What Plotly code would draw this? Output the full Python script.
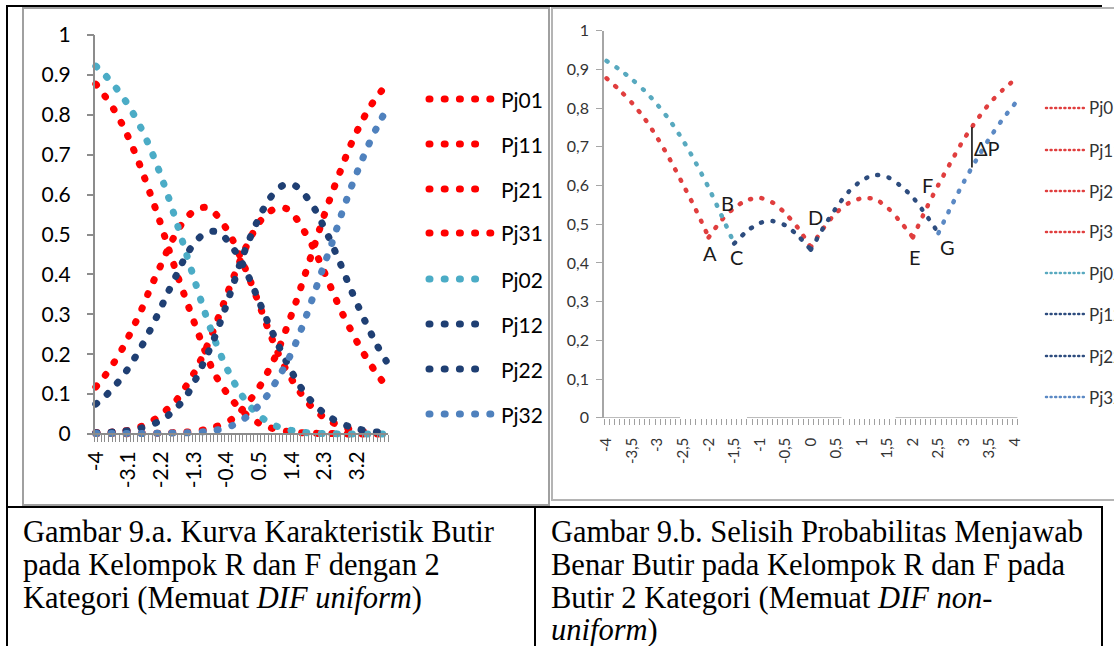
import plotly.graph_objects as go
import numpy as np

W, H = 1114, 646
def X(px): return px / W
def Y(py): return 1 - py / H

# ---------------- data ----------------
theta = [-4, -3.75, -3.5, -3.25, -3, -2.75, -2.5, -2.25, -2, -1.75, -1.5, -1.25, -1,
         -0.75, -0.5, -0.25, 0, 0.25, 0.5, 0.75, 1, 1.25, 1.5, 1.75, 2, 2.25, 2.5,
         2.75, 3, 3.25, 3.5, 3.75, 4]

Pj01 = [0.877, 0.847, 0.813, 0.772, 0.722, 0.665, 0.602, 0.537, 0.466, 0.397, 0.333, 0.27, 0.21,
        0.155, 0.117, 0.086, 0.06, 0.041, 0.027, 0.017, 0.011, 0.007, 0.004, 0.003, 0.002, 0.001,
        0.001, 0.001, 0, 0, 0, 0, 0]
Pj11 = [0.118, 0.146, 0.179, 0.217, 0.262, 0.31, 0.365, 0.415, 0.466, 0.51, 0.542, 0.562, 0.568,
        0.556, 0.528, 0.49, 0.44, 0.385, 0.325, 0.263, 0.207, 0.16, 0.122, 0.089, 0.063, 0.044,
        0.03, 0.02, 0.012, 0.008, 0.004, 0.002, 0.001]
Pj21 = [0.003, 0.004, 0.005, 0.007, 0.011, 0.019, 0.03, 0.045, 0.065, 0.088, 0.122, 0.16, 0.207,
        0.262, 0.322, 0.383, 0.44, 0.49, 0.53, 0.555, 0.567, 0.565, 0.543, 0.507, 0.466, 0.415,
        0.362, 0.31, 0.265, 0.222, 0.184, 0.15, 0.12]
Pj31 = [0.001, 0.001, 0.001, 0.001, 0.001, 0.002, 0.002, 0.002, 0.003, 0.004, 0.005, 0.007, 0.011,
        0.017, 0.025, 0.037, 0.058, 0.085, 0.117, 0.158, 0.205, 0.264, 0.327, 0.396, 0.466, 0.537,
        0.602, 0.662, 0.72, 0.769, 0.812, 0.846, 0.874]
Pj02 = [0.922, 0.9, 0.874, 0.844, 0.808, 0.766, 0.716, 0.658, 0.594, 0.523, 0.45, 0.377, 0.306,
        0.242, 0.186, 0.139, 0.1, 0.069, 0.046, 0.03, 0.019, 0.012, 0.007, 0.004, 0.002, 0.001,
        0.001, 0, 0, 0, 0, 0, 0]
Pj12 = [0.075, 0.094, 0.118, 0.146, 0.18, 0.218, 0.261, 0.308, 0.357, 0.404, 0.45, 0.482, 0.503,
        0.508, 0.497, 0.47, 0.434, 0.386, 0.332, 0.278, 0.228, 0.181, 0.139, 0.103, 0.076, 0.055,
        0.039, 0.027, 0.018, 0.012, 0.008, 0.005, 0.003]
Pj22 = [0.003, 0.004, 0.005, 0.007, 0.01, 0.015, 0.022, 0.032, 0.047, 0.068, 0.096, 0.137, 0.185,
        0.237, 0.298, 0.365, 0.434, 0.492, 0.543, 0.585, 0.613, 0.627, 0.622, 0.6, 0.569, 0.525,
        0.477, 0.424, 0.368, 0.316, 0.267, 0.222, 0.183]
Pj32 = [0.001, 0.001, 0.001, 0.001, 0.001, 0.001, 0.002, 0.002, 0.002, 0.003, 0.003, 0.004, 0.006,
        0.009, 0.013, 0.021, 0.033, 0.05, 0.072, 0.1, 0.137, 0.177, 0.226, 0.284, 0.348, 0.414,
        0.477, 0.546, 0.61, 0.668, 0.722, 0.77, 0.812]

series_names = ["Pj01", "Pj11", "Pj21", "Pj31", "Pj02", "Pj12", "Pj22", "Pj32"]
series_values = [Pj01, Pj11, Pj21, Pj31, Pj02, Pj12, Pj22, Pj32]
group_R = ["Pj01", "Pj11", "Pj21", "Pj31"]
group_F = ["Pj02", "Pj12", "Pj22", "Pj32"]

y_tickvals = [0, 0.1, 0.2, 0.3, 0.4, 0.5, 0.6, 0.7, 0.8, 0.9, 1]
y_ticktext_a = ["0", "0.1", "0.2", "0.3", "0.4", "0.5", "0.6", "0.7", "0.8", "0.9", "1"]
y_ticktext_b = ["0", "0,1", "0,2", "0,3", "0,4", "0,5", "0,6", "0,7", "0,8", "0,9", "1"]
x_tickvals_a = [-4, -3.1, -2.2, -1.3, -0.4, 0.5, 1.4, 2.3, 3.2]
x_ticktext_a = ["-4", "-3.1", "-2.2", "-1.3", "-0.4", "0.5", "1.4", "2.3", "3.2"]
x_tickvals_b = [-4, -3.5, -3, -2.5, -2, -1.5, -1, -0.5, 0, 0.5, 1, 1.5, 2, 2.5, 3, 3.5, 4]
x_ticktext_b = ["-4", "-3,5", "-3", "-2,5", "-2", "-1,5", "-1", "-0,5", "0", "0,5", "1",
                "1,5", "2", "2,5", "3", "3,5", "4"]

caption_a = ["Gambar 9.a. Kurva Karakteristik Butir",
             "pada Kelompok R dan F dengan 2",
             "Kategori (Memuat <i>DIF uniform</i>)"]
caption_b = ["Gambar 9.b. Selisih Probabilitas Menjawab",
             "Benar Butir pada Kelompok R dan F pada",
             "Butir 2 Kategori (Memuat <i>DIF non-</i>",
             "<i>uniform</i>)"]

point_labels = [("A", -1.98, 0.425), ("B", -1.63, 0.556), ("C", -1.45, 0.414),
                ("D", 0.09, 0.518), ("E", 2.04, 0.416), ("F", 2.28, 0.601),
                ("G", 2.68, 0.44)]
delta_x = 3.156

# ---------------- styles ----------------
col_a = {"Pj01": "#FF0000", "Pj11": "#FF0000", "Pj21": "#FF0000", "Pj31": "#FF0000",
         "Pj02": "#4BACC6", "Pj12": "#1F3F73", "Pj22": "#1F3F73", "Pj32": "#4F81BD"}
col_b = {"Pj01": "#E03E3E", "Pj11": "#E03E3E", "Pj21": "#E03E3E", "Pj31": "#E03E3E",
         "Pj02": "#58A9BF", "Pj12": "#2D4C7E", "Pj22": "#2D4C7E", "Pj32": "#5B89C4"}
DASH_A = "1px,14.2px"
DASH_B = "1px,10.5px"
AX = "#8C8C8C"
FONT = "Lato"

fig = go.Figure()

# chart a: full curves
for name, vals in zip(series_names, series_values):
    fig.add_trace(go.Scatter(x=theta, y=vals, mode="lines", name=name,
                             line=dict(color=col_a[name], width=7, dash=DASH_A,
                                       shape="spline", smoothing=0.8),
                             xaxis="x", yaxis="y", showlegend=False, hoverinfo="skip"))

# chart b: only the part of each curve that is highest in its group
data = dict(zip(series_names, series_values))
for group in (group_R, group_F):
    M = np.max(np.array([data[n] for n in group]), axis=0)
    for n in group:
        v = np.array(data[n])
        keep = v >= M - 0.002
        xs = [t for t, k in zip(theta, keep) if k]
        ys = [float(y) for y, k in zip(v, keep) if k]
        fig.add_trace(go.Scatter(x=xs, y=ys, mode="lines", name=n,
                                 line=dict(color=col_b[n], width=4.5, dash=DASH_B,
                                           shape="spline", smoothing=0.8),
                                 xaxis="x2", yaxis="y2", showlegend=False, hoverinfo="skip"))

bound = [round(-4.05 + 0.1 * i, 2) for i in range(82)]

# chart a axes geometry
pxa = 36.3
a_left = 94 - 0.15 * pxa
a_right = 94 + 8.2 * pxa
fig.update_layout(
    xaxis=dict(domain=[X(a_left), X(a_right)], range=[-4.2, 4.15], anchor="free",
               position=Y(434), showline=False, showgrid=False, zeroline=False,
               tickmode="array", tickvals=x_tickvals_a, ticktext=x_ticktext_a, ticks="",
               tickangle=-90, tickfont=dict(family=FONT, size=21, color="black"),
               ticklabelstandoff=12, automargin=False,
               minor=dict(tickmode="array", tickvals=bound, ticks="outside", ticklen=7,
                          tickcolor=AX, tickwidth=1, showgrid=False)),
    yaxis=dict(domain=[Y(441), Y(35)], range=[-0.0175, 1], anchor="free", position=X(94),
               showline=False, showgrid=False, zeroline=False, tickmode="array",
               tickvals=y_tickvals, ticktext=y_ticktext_a, ticks="outside", ticklen=7,
               tickcolor=AX, tickwidth=1.5, tickfont=dict(family=FONT, size=21, color="black"),
               ticklabelstandoff=12, automargin=False),
    xaxis2=dict(domain=[X(604), X(1017.6)], range=[-4.05, 4.05], anchor="y2",
                showline=False, showgrid=False, zeroline=False, tickmode="array",
                tickvals=x_tickvals_b, ticktext=x_ticktext_b, ticks="", tickangle=-90,
                tickfont=dict(family=FONT, size=15, color="#333333"), ticklabelstandoff=16,
                automargin=False,
                minor=dict(tickmode="array", tickvals=bound, ticks="outside", ticklen=6,
                           tickcolor="#A0A0A0", tickwidth=1, showgrid=False)),
    yaxis2=dict(domain=[Y(417.7), Y(30.7)], range=[0, 1], anchor="x2", showline=True,
                linecolor="#A6A6A6", linewidth=1.5, showgrid=False, zeroline=False,
                tickmode="array", tickvals=y_tickvals, ticktext=y_ticktext_b, ticks="outside",
                ticklen=6, tickcolor="#A6A6A6", tickwidth=1.2, automargin=False,
                tickfont=dict(family=FONT, size=16, color="#333333"), ticklabelstandoff=4),
)

shapes = []
ann = []
# axis lines chart a
shapes.append(dict(type="line", xref="x", yref="y", x0=-4.05, x1=-4.05, y0=0, y1=1,
                   line=dict(color=AX, width=2)))
shapes.append(dict(type="line", xref="x", yref="y", x0=-4.05, x1=4.05, y0=0, y1=0,
                   line=dict(color=AX, width=2)))
# axis line chart b (partly erased in the original)
for s0, s1 in [(-4.05, -2.56), (-1.25, 0.6), (1.66, 4.05)]:
    shapes.append(dict(type="line", xref="x2", yref="y2", x0=s0, x1=s1, y0=0, y1=0,
                       line=dict(color="#A6A6A6", width=1.5)))

# delta P marker
y_top = float(np.interp(delta_x, theta, Pj31))
y_bot = float(np.interp(delta_x, theta, Pj32))
shapes.append(dict(type="line", xref="x2", yref="y2", x0=delta_x, x1=delta_x, y0=y_bot, y1=y_top,
                   line=dict(color="black", width=1.5)))
ann.append(dict(text="ΔP", xref="x2", yref="y2", x=3.45, y=0.696, showarrow=False,
                font=dict(family=FONT, size=20, color="#1a1a1a")))
for t, lx, ly in point_labels:
    ann.append(dict(text=t, xref="x2", yref="y2", x=lx, y=ly, showarrow=False,
                    font=dict(family=FONT, size=20, color="#1a1a1a")))

# legends (manual, Excel-like)
leg_a_y = [99, 144, 189, 233, 279, 324, 369, 414]
leg_a_len = [491, 476, 476, 491, 476, 476, 476, 491]
for n, yy, x1 in zip(series_names, leg_a_y, leg_a_len):
    shapes.append(dict(type="line", xref="paper", yref="paper", x0=X(429), x1=X(x1),
                       y0=Y(yy), y1=Y(yy), line=dict(color=col_a[n], width=7, dash=DASH_A)))
    ann.append(dict(text=n, xref="paper", yref="paper", x=X(499), y=Y(yy), xanchor="left",
                    yanchor="middle", showarrow=False,
                    font=dict(family=FONT, size=21, color="black")))
leg_b_y = [108, 150, 191, 232, 273, 314, 356, 397]
for n, yy in zip(series_names, leg_b_y):
    shapes.append(dict(type="line", xref="paper", yref="paper", x0=X(1046), x1=X(1085),
                       y0=Y(yy), y1=Y(yy), line=dict(color=col_b[n], width=2.5, dash="1px,3.6px")))
    ann.append(dict(text=n, xref="paper", yref="paper", x=X(1087), y=Y(yy), xanchor="left",
                    yanchor="middle", showarrow=False,
                    font=dict(family=FONT, size=17, color="#333333")))

# panel borders
shapes.append(dict(type="rect", xref="paper", yref="paper", x0=X(23), x1=X(549), y0=Y(505), y1=Y(8),
                   line=dict(color="#A0A0A0", width=2)))
shapes.append(dict(type="rect", xref="paper", yref="paper", x0=X(552), x1=X(1130), y0=Y(500), y1=Y(8),
                   line=dict(color="#B4B4B4", width=2)))
# table lines
def hline(x0, x1, y, w=2):
    shapes.append(dict(type="line", xref="paper", yref="paper", x0=X(x0), x1=X(x1), y0=Y(y), y1=Y(y),
                       line=dict(color="black", width=w)))
def vline(x, y0, y1, w=2):
    shapes.append(dict(type="line", xref="paper", yref="paper", x0=X(x), x1=X(x), y0=Y(y0), y1=Y(y1),
                       line=dict(color="black", width=w)))
hline(6, 1102, 6)
hline(6, 1103, 507)
vline(7, 5, 650)
vline(535, 507, 650)
vline(1102, 507, 650)

cap_y = [532, 565, 598, 630]
for i, line in enumerate(caption_a):
    ann.append(dict(text=line, xref="paper", yref="paper", x=X(21), y=Y(cap_y[i]), xanchor="left",
                    yanchor="middle", showarrow=False,
                    font=dict(family="Liberation Serif", size=30.5, color="black")))
for i, line in enumerate(caption_b):
    ann.append(dict(text=line, xref="paper", yref="paper", x=X(549), y=Y(cap_y[i]), xanchor="left",
                    yanchor="middle", showarrow=False,
                    font=dict(family="Liberation Serif", size=30.5, color="black")))

fig.update_layout(width=W, height=H, margin=dict(l=0, r=0, t=0, b=0, pad=0, autoexpand=False),
                  autosize=False, paper_bgcolor="white", plot_bgcolor="rgba(0,0,0,0)",
                  shapes=shapes, annotations=ann, showlegend=False)

js = """
document.documentElement.style.margin = '0';
document.documentElement.style.padding = '0';
document.documentElement.style.overflow = 'hidden';
document.body.style.margin = '0';
document.body.style.padding = '0';
document.body.style.overflow = 'hidden';
var gd = document.getElementById('{plot_id}');
function rc(){
  gd.querySelectorAll('path').forEach(function(p){
    var d = p.style.strokeDasharray;
    if (d && d !== 'none' && d !== '') { p.style.strokeLinecap = 'round'; }
  });
}
rc();
gd.on('plotly_afterplot', rc);
"""
fig.write_html("out.html", config={"displayModeBar": False, "responsive": False},
               post_script=js)
